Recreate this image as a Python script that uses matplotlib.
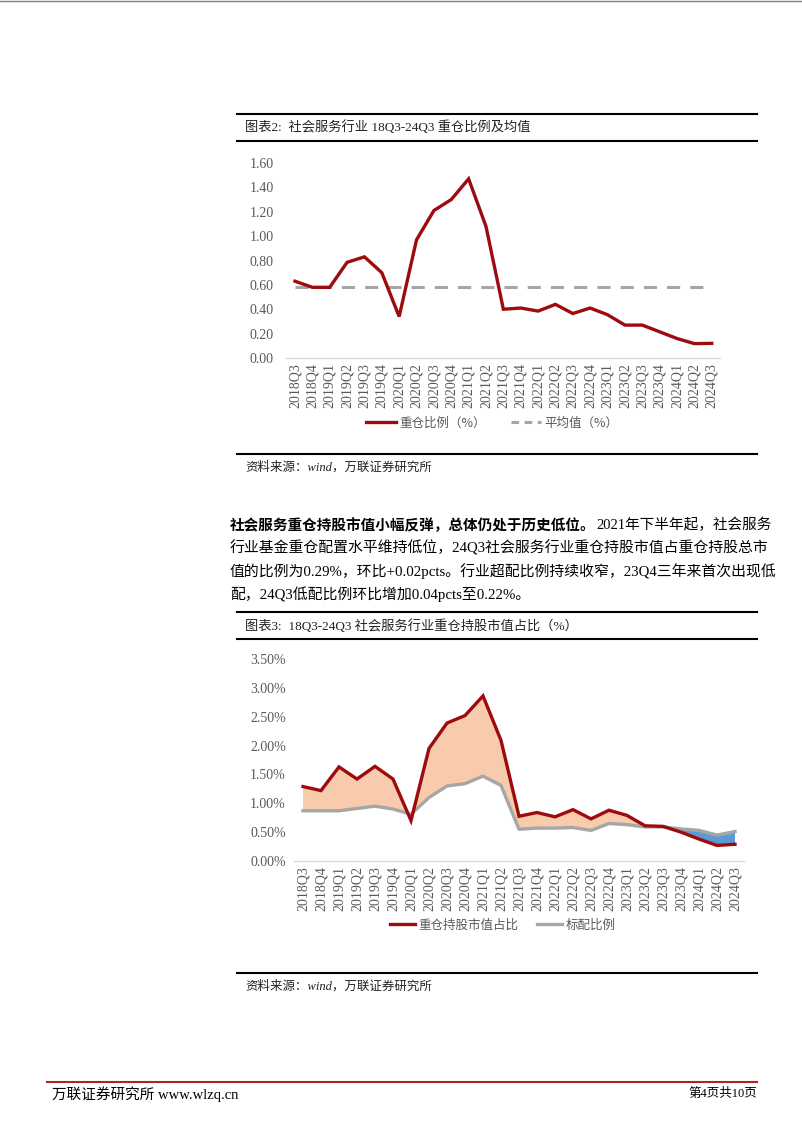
import matplotlib
matplotlib.use("Agg")
import matplotlib.pyplot as plt
from matplotlib.lines import Line2D
import numpy as np

plt.rcParams['font.family'] = ['Liberation Serif', 'Noto Sans CJK SC', 'DejaVu Sans']

quarters = ["2018Q3", "2018Q4", "2019Q1", "2019Q2", "2019Q3", "2019Q4",
            "2020Q1", "2020Q2", "2020Q3", "2020Q4", "2021Q1", "2021Q2",
            "2021Q3", "2021Q4", "2022Q1", "2022Q2", "2022Q3", "2022Q4",
            "2023Q1", "2023Q2", "2023Q3", "2023Q4", "2024Q1", "2024Q2", "2024Q3"]

# chart 2: heavy position ratio (%) and its mean
heavy_ratio = [0.63, 0.58, 0.58, 0.785, 0.83, 0.70, 0.34, 0.97, 1.21, 1.30, 1.47, 1.08,
               0.40, 0.41, 0.385, 0.44, 0.365, 0.41, 0.355, 0.27, 0.27, 0.215, 0.16, 0.118, 0.12]
heavy_mean = 0.58

# chart 3: market value share vs standard allocation (%)
mv_share = [1.29, 1.22, 1.63, 1.42, 1.64, 1.42, 0.70, 1.95, 2.39, 2.52, 2.86, 2.09,
            0.775, 0.84, 0.765, 0.89, 0.73, 0.88, 0.79, 0.61, 0.60, 0.50, 0.38, 0.27, 0.29]
std_alloc = [0.87, 0.87, 0.87, 0.91, 0.95, 0.90, 0.81, 1.10, 1.30, 1.34, 1.47, 1.31,
             0.55, 0.57, 0.57, 0.58, 0.53, 0.65, 0.63, 0.59, 0.59, 0.555, 0.53, 0.45, 0.51]

W, H = 802, 1133
RED = '#9E0B0F'
GRAY = '#A6A6A6'
TXT = '#595959'
CJK = ['Noto Sans CJK SC', 'DejaVu Sans']
MIX = ['Liberation Serif', 'Noto Sans CJK SC']

fig = plt.figure(figsize=(W / 100, H / 100), dpi=100)


def fx(x):
    return x / W


def fy(y):
    return 1 - y / H


def hline(y, x1, x2, color='black', lw=1.5):
    fig.add_artist(Line2D([fx(x1), fx(x2)], [fy(y), fy(y)], color=color, lw=lw,
                          transform=fig.transFigure))


def text(x, y, s, **kw):
    kw.setdefault('family', MIX)
    return fig.text(fx(x), fy(y), s, va='center', **kw)


def make_axes(left, right, top, bottom):
    ax = fig.add_axes([fx(left), fy(bottom), (right - left) / W, (bottom - top) / H])
    for s in ['top', 'right', 'left']:
        ax.spines[s].set_visible(False)
    ax.spines['bottom'].set_color('#D9D9D9')
    ax.spines['bottom'].set_linewidth(1)
    ax.tick_params(length=0, colors=TXT, labelsize=10)
    ax.set_xticks(np.arange(len(quarters)))
    ax.set_xticklabels(quarters, rotation=90, family=MIX)
    ax.set_xlim(-0.5, len(quarters) - 0.5)
    ax.patch.set_visible(False)
    return ax


# top page line
hline(0.5, 0, W, color='#808080', lw=1)

# ---------- chart 2 ----------
hline(114, 237, 757)
hline(141, 237, 757)
text(245, 127.5, "图表2:  社会服务行业 18Q3-24Q3 重仓比例及均值", fontsize=9.5, color='#222222')

x = np.arange(len(quarters))
ax1 = make_axes(286.3, 720.4, 163, 358)
ax1.plot(x, [heavy_mean] * len(x), color=GRAY, lw=2.2, dashes=(4.3, 3.3))
ax1.plot(x, heavy_ratio, color=RED, lw=2.4, solid_joinstyle='miter')
ax1.set_ylim(0, 1.6)
ax1.set_yticks(np.arange(0, 1.61, 0.2))
ax1.set_yticklabels([f"{v:.2f}" for v in np.arange(0, 1.61, 0.2)], family=MIX)
ax1.tick_params(axis='y', pad=9)

h1 = [Line2D([], [], color=RED, lw=2.4), Line2D([], [], color=GRAY, lw=2.2, dashes=(2.5, 1.8))]
fig.legend(h1, ["重仓比例（%）", "平均值（%）"], loc='center', bbox_to_anchor=(fx(492), fy(423)),
           ncol=2, frameon=False, prop={'family': CJK, 'size': 9}, labelcolor=TXT,
           handlelength=2.4, columnspacing=2.0, handletextpad=0.3)

hline(454, 237, 757)
text(245, 467, "资料来源：wind，万联证券研究所", fontsize=9, style='italic', color='#222222')

# ---------- paragraph ----------
fig.canvas.draw()
rend = fig.canvas.get_renderer()
t = text(230, 525, "社会服务重仓持股市值小幅反弹，总体仍处于历史低位。", fontsize=10.5,
         weight='bold', family=CJK)
bb = t.get_window_extent(rend)
text(bb.x1 + 1, 525, "2021年下半年起，社会服务", fontsize=10.5)
text(230, 548, "行业基金重仓配置水平维持低位，24Q3社会服务行业重仓持股市值占重仓持股总市", fontsize=10.7)
text(230, 571, "值的比例为0.29%，环比+0.02pcts。行业超配比例持续收窄，23Q4三年来首次出现低", fontsize=10.7)
text(230, 594, "配，24Q3低配比例环比增加0.04pcts至0.22%。", fontsize=10.7)

# ---------- chart 3 ----------
hline(612, 237, 757)
hline(639, 237, 757)
text(245, 626, "图表3:  18Q3-24Q3 社会服务行业重仓持股市值占比（%）", fontsize=9.5, color='#222222')

ax2 = make_axes(294, 744, 659, 861)
mv = np.array(mv_share)
sa = np.array(std_alloc)
ax2.fill_between(x, mv, sa, where=mv >= sa, interpolate=True, color='#F8CBAD', lw=0)
ax2.fill_between(x, mv, sa, where=mv < sa, interpolate=True, color='#5B9BD5', lw=0)
ax2.plot(x, std_alloc, color=GRAY, lw=2.4)
ax2.plot(x, mv_share, color=RED, lw=2.4, solid_joinstyle='miter')
ax2.set_ylim(0, 3.5)
yt = np.arange(0, 3.51, 0.5)
ax2.set_yticks(yt)
ax2.set_yticklabels([f"{v:.2f}%" for v in yt], family=MIX)
ax2.tick_params(axis='y', pad=6)

h2 = [Line2D([], [], color=RED, lw=2.4), Line2D([], [], color=GRAY, lw=2.4)]
fig.legend(h2, ["重仓持股市值占比", "标配比例"], loc='center', bbox_to_anchor=(fx(503), fy(925)),
           ncol=2, frameon=False, prop={'family': CJK, 'size': 9}, labelcolor=TXT,
           handlelength=2.0, columnspacing=1.5, handletextpad=0.3)

hline(973, 237, 757)
text(245, 986, "资料来源：wind，万联证券研究所", fontsize=9, style='italic', color='#222222')

# ---------- footer ----------
hline(1082, 47, 757, color='#B22222', lw=1.5)
text(52, 1094, "万联证券研究所 www.wlzq.cn", fontsize=10.5)
text(757, 1094, "第4页共10页", fontsize=9, ha='right')

fig.savefig("out.png", dpi=100)
